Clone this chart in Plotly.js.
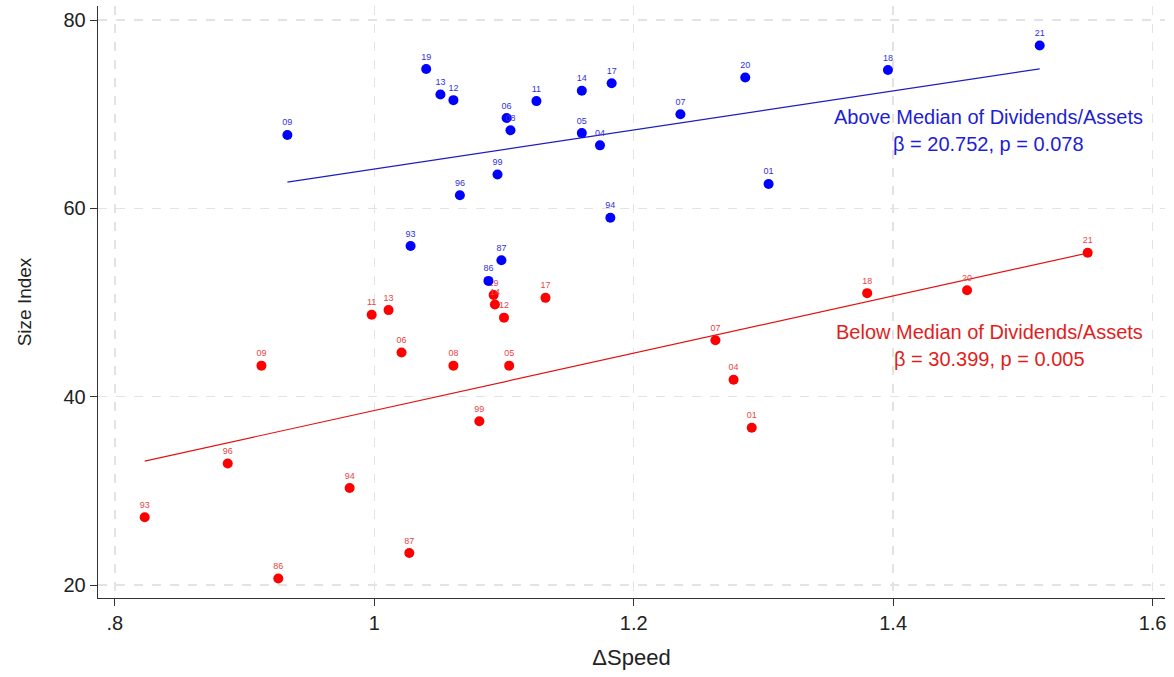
<!DOCTYPE html>
<html>
<head>
<meta charset="utf-8">
<script src="https://cdn.plot.ly/plotly-3.0.1.min.js"></script>
<style>html,body{margin:0;padding:0;background:#fff;}#chart{width:1174px;height:677px;}</style>
</head>
<body>
<div id="chart"></div>
<script>
// Above median of Dividends/Assets (blue)
const aboveYears = ["09","19","13","12","06","08","11","14","17","05","04","07","20","18","21","01","99","96","94","93","87","86"];
const aboveSpeed = [0.933,1.040,1.051,1.061,1.102,1.105,1.125,1.160,1.183,1.160,1.174,1.236,1.286,1.396,1.513,1.304,1.095,1.066,1.182,1.028,1.098,1.088];
const aboveSize  = [67.8,74.8,72.1,71.5,69.6,68.3,71.4,72.5,73.3,68.0,66.7,70.0,73.9,74.7,77.3,62.6,63.6,61.4,59.0,56.0,54.5,52.3];

// Below median of Dividends/Assets (red)
const belowYears = ["93","96","86","09","94","87","11","13","06","08","05","99","19","14","12","17","07","04","01","18","20","21"];
const belowSpeed = [0.823,0.887,0.926,0.913,0.981,1.027,0.998,1.011,1.021,1.061,1.104,1.081,1.092,1.093,1.100,1.132,1.263,1.277,1.291,1.380,1.457,1.550];
const belowSize  = [27.2,32.9,20.7,43.3,30.3,23.4,48.7,49.2,44.7,43.3,43.3,37.4,50.8,49.8,48.4,50.5,46.0,41.8,36.7,51.0,51.3,55.3];

// Fitted lines: intercept and slope
const aboveFit = {intercept: 43.43, beta: 20.752, p: 0.078};
const belowFit = {intercept: 8.14, beta: 30.399, p: 0.005};

const xTickVals = [0.8, 1, 1.2, 1.4, 1.6];
const xTickText = [".8", "1", "1.2", "1.4", "1.6"];
const yTickVals = [20, 40, 60, 80];
const yTickText = ["20", "40", "60", "80"];

const BLUE = "rgb(0,0,255)";
const RED = "rgb(255,0,0)";

function fitLine(xs, fit) {
  const lo = Math.min(...xs), hi = Math.max(...xs);
  return {x: [lo, hi], y: [fit.intercept + fit.beta * lo, fit.intercept + fit.beta * hi]};
}
const aL = fitLine(aboveSpeed, aboveFit);
const bL = fitLine(belowSpeed, belowFit);

const traces = [
  {x: aL.x, y: aL.y, mode: "lines", line: {color: "rgb(30,30,190)", width: 1.2}, hoverinfo: "skip"},
  {x: bL.x, y: bL.y, mode: "lines", line: {color: "rgb(225,20,20)", width: 1.2}, hoverinfo: "skip"},
  {x: belowSpeed, y: belowSize, text: belowYears, mode: "markers+text", textposition: "top center",
   textfont: {family: "Liberation Sans, Arial, sans-serif", size: 9, color: "rgb(230,70,70)"},
   marker: {color: RED, size: 10}},
  {x: aboveSpeed, y: aboveSize, text: aboveYears, mode: "markers+text", textposition: "top center",
   textfont: {family: "Liberation Sans, Arial, sans-serif", size: 9, color: "rgb(50,50,220)"},
   marker: {color: BLUE, size: 10}}
];

const font = {family: "Liberation Sans, Arial, sans-serif", color: "#222"};

const layout = {
  width: 1174, height: 677,
  margin: {l: 98, r: 9, t: 6, b: 79},
  paper_bgcolor: "#fff", plot_bgcolor: "#fff",
  showlegend: false,
  font: font,
  xaxis: {
    range: [0.787, 1.6096],
    tickvals: xTickVals, ticktext: xTickText,
    ticks: "outside", ticklen: 7, tickcolor: "#333", tickwidth: 1,
    tickfont: {family: font.family, size: 20, color: "#222"},
    showline: true, linecolor: "#333", linewidth: 1.3,
    showgrid: true, gridcolor: "#e3e3e3", griddash: "dash", gridwidth: 1.3,
    zeroline: false,
    title: {text: "ΔSpeed", font: {family: font.family, size: 22, color: "#222"}, standoff: 16}
  },
  yaxis: {
    range: [18.62, 81.5],
    tickvals: yTickVals, ticktext: yTickText,
    ticks: "outside", ticklen: 7, tickcolor: "#333", tickwidth: 1,
    tickfont: {family: font.family, size: 20, color: "#222"},
    showline: true, linecolor: "#333", linewidth: 1.3,
    showgrid: true, gridcolor: "#e3e3e3", griddash: "dash", gridwidth: 1.3,
    zeroline: false,
    title: {text: "Size Index", font: {family: font.family, size: 19, color: "#222"}, standoff: 26}
  },
  annotations: [
    {x: 1.4734, y: 69.7, xref: "x", yref: "y", showarrow: false, xanchor: "center", yanchor: "middle",
     text: "Above Median of Dividends/Assets", font: {family: font.family, size: 20, color: "rgb(30,30,210)"}},
    {x: 1.4734, y: 66.85, xref: "x", yref: "y", showarrow: false, xanchor: "center", yanchor: "middle",
     text: "β = " + aboveFit.beta.toFixed(3) + ", p = " + aboveFit.p.toFixed(3), font: {family: font.family, size: 20, color: "rgb(30,30,210)"}},
    {x: 1.4742, y: 46.85, xref: "x", yref: "y", showarrow: false, xanchor: "center", yanchor: "middle",
     text: "Below Median of Dividends/Assets", font: {family: font.family, size: 20, color: "rgb(225,30,30)"}},
    {x: 1.4742, y: 44.0, xref: "x", yref: "y", showarrow: false, xanchor: "center", yanchor: "middle",
     text: "β = " + belowFit.beta.toFixed(3) + ", p = " + belowFit.p.toFixed(3), font: {family: font.family, size: 20, color: "rgb(225,30,30)"}}
  ]
};

Plotly.newPlot("chart", traces, layout, {displayModeBar: false, staticPlot: true});
</script>
</body>
</html>
